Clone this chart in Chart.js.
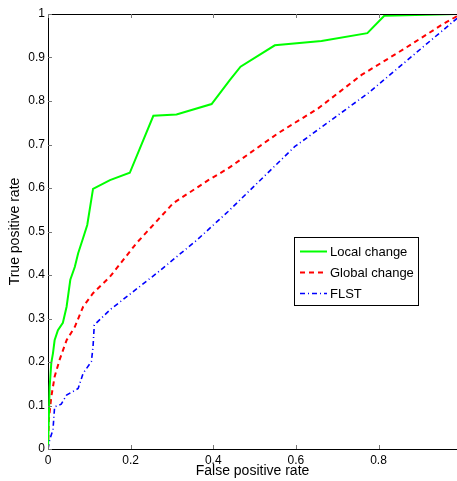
<!DOCTYPE html>
<html>
<head>
<meta charset="utf-8">
<script src="https://cdn.jsdelivr.net/npm/chart.js@4.4.1/dist/chart.umd.min.js"></script>
<style>
  html, body { margin: 0; padding: 0; background: #fff; }
  #wrap { width: 457px; height: 481px; }
</style>
</head>
<body>
<div id="wrap"><canvas id="roc"></canvas></div>
<script>
// Curvas ROC
const localX  = [0, 0.004, 0.008, 0.012, 0.016, 0.024, 0.036, 0.045, 0.054, 0.065, 0.073, 0.085, 0.095, 0.109, 0.15, 0.198, 0.255, 0.311, 0.396, 0.44, 0.466, 0.549, 0.662, 0.773, 0.814, 0.99];
const localY  = [0, 0.143, 0.198, 0.22, 0.25, 0.273, 0.29, 0.327, 0.389, 0.419, 0.45, 0.485, 0.515, 0.598, 0.618, 0.635, 0.766, 0.769, 0.793, 0.848, 0.879, 0.928, 0.938, 0.956, 0.996, 1.0];

const globalX = [0, 0.002, 0.008, 0.016, 0.028, 0.045, 0.065, 0.085, 0.109, 0.15, 0.214, 0.303, 0.388, 0.436, 0.557, 0.654, 0.759, 0.864, 0.953, 0.99];
const globalY = [0, 0.067, 0.12, 0.166, 0.205, 0.25, 0.281, 0.327, 0.358, 0.396, 0.473, 0.565, 0.618, 0.645, 0.726, 0.783, 0.86, 0.921, 0.975, 0.995];

const flstX   = [0, 0.004, 0.012, 0.016, 0.032, 0.045, 0.073, 0.085, 0.105, 0.109, 0.112, 0.15, 0.263, 0.36, 0.436, 0.597, 0.775, 0.99];
const flstY   = [0, 0.021, 0.044, 0.097, 0.103, 0.124, 0.139, 0.174, 0.201, 0.235, 0.285, 0.32, 0.404, 0.48, 0.546, 0.695, 0.818, 0.99];

const seriesNames = ['Local change', 'Global change', 'FLST'];
const xTicks = [0, 0.2, 0.4, 0.6, 0.8];
const yTicks = [0, 0.1, 0.2, 0.3, 0.4, 0.5, 0.6, 0.7, 0.8, 0.9, 1];
const xTickLabels = ['0', '0.2', '0.4', '0.6', '0.8'];
const yTickLabels = ['0', '0.1', '0.2', '0.3', '0.4', '0.5', '0.6', '0.7', '0.8', '0.9', '1'];

const FONT = "'Liberation Sans', Arial, sans-serif";
Chart.defaults.font.family = FONT;
Chart.defaults.color = '#000';

const pts = (xs, ys) => xs.map((x, i) => ({ x, y: ys[i] }));

// ticks internos + borda superior, estilo matlab
const boxTicks = {
  id: 'boxTicks',
  afterDraw(chart) {
    const { ctx, chartArea: a, scales: { x, y } } = chart;
    ctx.save();
    ctx.strokeStyle = '#000';
    ctx.lineWidth = 1;
    ctx.beginPath();
    ctx.moveTo(a.left, a.top + 0.5);
    ctx.lineTo(a.right, a.top + 0.5);
    ctx.stroke();
    ctx.strokeStyle = '#777';
    ctx.beginPath();
    xTicks.forEach(v => {
      const px = Math.round(x.getPixelForValue(v)) + 0.5;
      ctx.moveTo(px, a.bottom); ctx.lineTo(px, a.bottom - 4);
      ctx.moveTo(px, a.top);    ctx.lineTo(px, a.top + 4);
    });
    yTicks.forEach(v => {
      const py = Math.round(y.getPixelForValue(v)) + 0.5;
      ctx.moveTo(a.left, py); ctx.lineTo(a.left + 4, py);
    });
    ctx.stroke();
    ctx.restore();
  }
};

// legenda dentro do gráfico
const boxLegend = {
  id: 'boxLegend',
  afterDraw(chart) {
    const { ctx } = chart;
    const bx = 294.5, by = 237.5, bw = 124, bh = 68;
    ctx.save();
    ctx.fillStyle = '#fff';
    ctx.fillRect(bx, by, bw, bh);
    ctx.strokeStyle = '#000';
    ctx.lineWidth = 1;
    ctx.strokeRect(bx, by, bw, bh);
    ctx.font = '13px ' + FONT;
    ctx.textBaseline = 'middle';
    chart.data.datasets.forEach((ds, i) => {
      const cy = 251.5 + i * 21;
      ctx.strokeStyle = ds.borderColor;
      ctx.lineWidth = ds.borderWidth;
      ctx.setLineDash(ds.borderDash || []);
      ctx.beginPath();
      ctx.moveTo(300, cy); ctx.lineTo(327, cy);
      ctx.stroke();
      ctx.setLineDash([]);
      ctx.fillStyle = '#000';
      ctx.fillText(ds.label, 330, cy + 1);
    });
    ctx.restore();
  }
};

new Chart(document.getElementById('roc'), {
  type: 'line',
  data: {
    datasets: [
      { label: seriesNames[0], data: pts(localX, localY),   borderColor: '#00ff00', borderWidth: 2 },
      { label: seriesNames[1], data: pts(globalX, globalY), borderColor: '#ff0000', borderWidth: 2, borderDash: [5, 4] },
      { label: seriesNames[2], data: pts(flstX, flstY),     borderColor: '#0000ff', borderWidth: 1.6, borderDash: [5, 3, 1, 3] },
    ],
  },
  options: {
    responsive: true, maintainAspectRatio: false,
    animation: false,
    elements: { point: { radius: 0 }, line: { tension: 0 } },
    layout: { padding: { top: 14, right: 0, left: 0, bottom: 0 } },
    plugins: { legend: { display: false }, tooltip: { enabled: false } },
    scales: {
      x: {
        type: 'linear', min: 0, max: 0.99,
        afterBuildTicks: s => { s.ticks = xTicks.map(v => ({ value: v })); },
        afterFit: s => { s.height = 32; },
        grid: { display: false, drawTicks: false },
        border: { display: true, color: '#000', width: 1 },
        ticks: { font: { size: 12 }, padding: 4, maxRotation: 0, callback: (v, i) => xTickLabels[i] },
        title: { display: true, text: 'False positive rate', font: { size: 14 }, padding: { top: 0, bottom: 1 } },
      },
      y: {
        type: 'linear', min: 0, max: 1,
        afterBuildTicks: s => { s.ticks = yTicks.map(v => ({ value: v })); },
        afterFit: s => { s.width = 48; },
        grid: { display: false, drawTicks: false },
        border: { display: true, color: '#000', width: 1 },
        ticks: { font: { size: 12 }, padding: 3, callback: (v, i) => yTickLabels[i] },
        title: { display: true, text: 'True positive rate', font: { size: 14 }, padding: { top: 7, bottom: 0 } },
      },
    },
  },
  plugins: [boxTicks, boxLegend],
});
</script>
</body>
</html>
